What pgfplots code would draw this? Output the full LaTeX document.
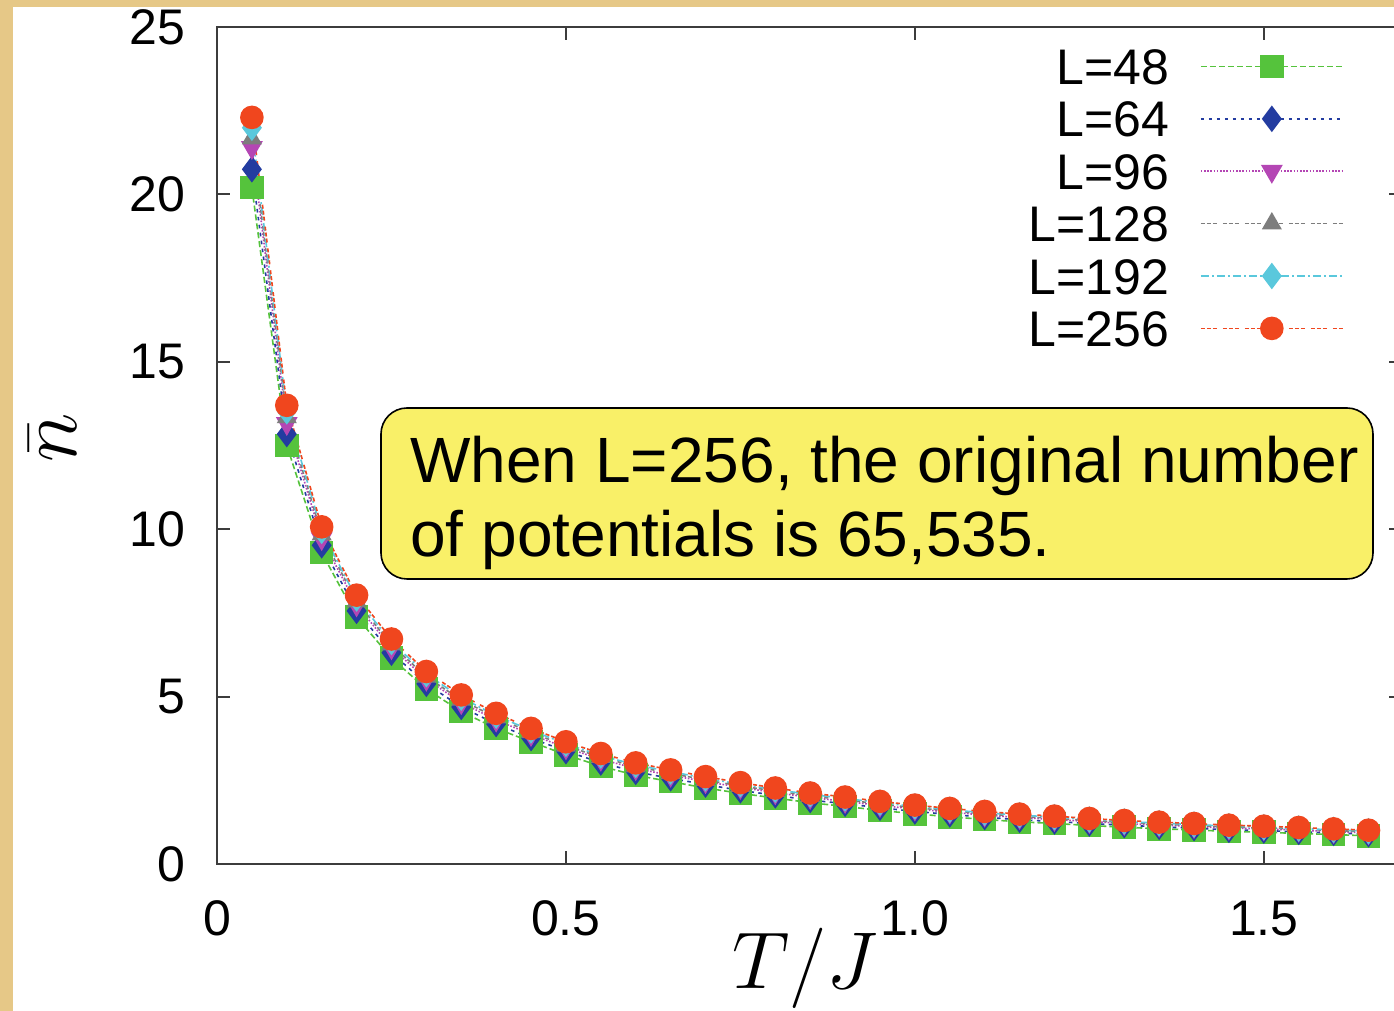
\documentclass[border=0pt]{standalone}
\usepackage{graphicx}
\usepackage{fontspec}
\setmainfont{Liberation Sans}
\usepackage{pgfplots}
\usepackage{pgfplotstable}
\pgfplotsset{compat=1.18}
\definecolor{parch}{RGB}{230,200,135}
\definecolor{axisgray}{RGB}{60,60,60}
\definecolor{cgreen}{RGB}{85,195,60}
\definecolor{cblue}{RGB}{35,60,160}
\definecolor{cmag}{RGB}{180,70,180}
\definecolor{cgray}{RGB}{125,125,125}
\definecolor{ccyan}{RGB}{90,200,220}
\definecolor{cred}{RGB}{240,70,30}
\definecolor{cyell}{RGB}{249,240,104}
\pgfplotstableread{
T    L48   L64   L96   L128  L192  L256
0.05 20.20 20.75 21.40 21.67 21.99 22.30
0.10 12.50 12.84 13.16 13.34 13.52 13.70
0.15 9.30  9.52  9.72  9.84  9.95  10.07
0.20 7.38  7.56  7.74  7.84  7.93  8.03
0.25 6.15  6.31  6.46  6.55  6.63  6.72
0.30 5.23  5.38  5.52  5.59  5.67  5.75
0.35 4.55  4.69  4.82  4.90  4.97  5.05
0.40 4.05  4.18  4.30  4.37  4.43  4.50
0.45 3.65  3.76  3.87  3.93  3.99  4.05
0.50 3.26  3.37  3.47  3.53  3.59  3.65
0.55 2.92  3.03  3.13  3.19  3.24  3.30
0.60 2.65  2.75  2.85  2.91  2.96  3.02
0.65 2.46  2.56  2.65  2.71  2.76  2.81
0.70 2.27  2.37  2.46  2.51  2.56  2.61
0.75 2.11  2.20  2.29  2.33  2.38  2.43
0.80 1.97  2.05  2.13  2.18  2.22  2.27
0.85 1.83  1.91  1.99  2.03  2.08  2.12
0.90 1.72  1.80  1.87  1.92  1.96  2.00
0.95 1.60  1.68  1.75  1.79  1.83  1.87
1.00 1.50  1.57  1.64  1.68  1.72  1.76
1.05 1.41  1.48  1.55  1.59  1.62  1.66
1.10 1.33  1.40  1.46  1.50  1.53  1.57
1.15 1.26  1.32  1.39  1.42  1.46  1.49
1.20 1.21  1.27  1.33  1.36  1.40  1.43
1.25 1.15  1.21  1.27  1.30  1.33  1.36
1.30 1.10  1.16  1.21  1.24  1.27  1.30
1.35 1.05  1.11  1.16  1.19  1.22  1.25
1.40 1.02  1.07  1.12  1.15  1.18  1.21
1.45 0.97  1.02  1.07  1.10  1.13  1.16
1.50 0.95  1.00  1.05  1.08  1.10  1.13
1.55 0.91  0.96  1.01  1.04  1.06  1.09
1.60 0.88  0.93  0.97  1.00  1.02  1.05
1.65 0.84  0.89  0.93  0.96  0.98  1.01
}\data
\begin{document}
\begin{tikzpicture}
\useasboundingbox (-108.5pt,-73.5pt) rectangle (588.5pt,432pt);
\fill[parch] (-108.5pt,-73.5pt) rectangle (588.5pt,432pt);
\fill[white] (-102pt,-73.5pt) rectangle (588.5pt,428.5pt);
\begin{axis}[
  scale only axis, width=592.5pt, height=418.5pt,
  at={(0pt,0pt)}, anchor=south west,
  xmin=0, xmax=1.698, ymin=0, ymax=25,
  xtick={0,0.5,1.0,1.5}, xticklabels={0,0.5,1.0,1.5},
  ytick={0,5,10,15,20,25},
  tick align=inside, major tick length=6.5pt,
  axis line style={line width=1pt, draw=axisgray},
  tick style={line width=1pt, color=axisgray},
  /pgf/number format/assume math mode=true,
  tick label style={font=\fontsize{25}{25}\selectfont},
  xticklabel style={yshift=-15pt},
  yticklabel style={xshift=-12.5pt},
  xlabel={\scalebox{1.62}{$T/J$}}, ylabel={\scalebox{1.7}{$\bar{n}$}},
  xlabel style={font=\fontsize{24.88}{25}\selectfont, at={(axis description cs:0.496,-0.1243)}, anchor=center},
  ylabel style={font=\fontsize{24.88}{25}\selectfont, at={(axis description cs:-0.1384,0.509)}, anchor=center},
  legend style={at={(axis description cs:0.9511,0.9847)}, anchor=north east, draw=none, fill=none,
    inner sep=0pt, row sep=0pt, column sep=15.5pt, font=\fontsize{25}{25}\selectfont,
    nodes={inner sep=0pt, text height=22.1pt, text depth=4.1pt}},
  legend cell align=right, legend plot pos=right,
  legend image code/.code={\draw[mark repeat=2,mark phase=2,#1] plot coordinates {(0pt,0pt) (35.5pt,0pt) (71pt,0pt)};},
]
\addplot[color=cgreen, line width=0.8pt, dash pattern=on 3pt off 1.5pt, mark=square*, mark size=5.5pt, mark options={solid}] table[x=T,y=L48] {\data};
\addlegendentry{L=48}
\addplot[color=cblue, line width=0.8pt, dash pattern=on 1.8pt off 2.2pt, mark=diamond*, mark size=6pt, mark options={solid}] table[x=T,y=L64] {\data};
\addlegendentry{L=64}
\addplot[color=cmag, line width=0.8pt, dash pattern=on 0.8pt off 0.8pt, mark=triangle*, mark size=5.5pt, mark options={solid, rotate=180}] table[x=T,y=L96] {\data};
\addlegendentry{L=96}
\addplot[color=cgray, line width=0.8pt, dash pattern=on 2pt off 1pt on 2pt off 1pt on 2pt off 3pt, mark=triangle*, mark size=5pt, mark options={solid}] table[x=T,y=L128] {\data};
\addlegendentry{L=128}
\addplot[color=ccyan, line width=0.8pt, dash pattern=on 4pt off 1.5pt on 1pt off 1.5pt, mark=diamond*, mark size=6pt, mark options={solid}] table[x=T,y=L192] {\data};
\addlegendentry{L=192}
\addplot[color=cred, line width=0.8pt, dash pattern=on 2pt off 1pt on 2pt off 1pt on 2pt off 3pt, mark=*, mark size=5.5pt, mark options={solid}] table[x=T,y=L256] {\data};
\addlegendentry{L=256}
\end{axis}
\draw[fill=cyell, rounded corners=13pt, line width=0.8pt] (82pt,142.5pt) rectangle (578pt,228pt);
\node[anchor=base west, inner sep=0pt, font=\fontsize{32}{32}\selectfont] at (96.5pt,190.5pt) {When L=256, the original number};
\node[anchor=base west, inner sep=0pt, font=\fontsize{32}{32}\selectfont] at (96.5pt,153.5pt) {of potentials is 65,535.};
\end{tikzpicture}
\end{document}
